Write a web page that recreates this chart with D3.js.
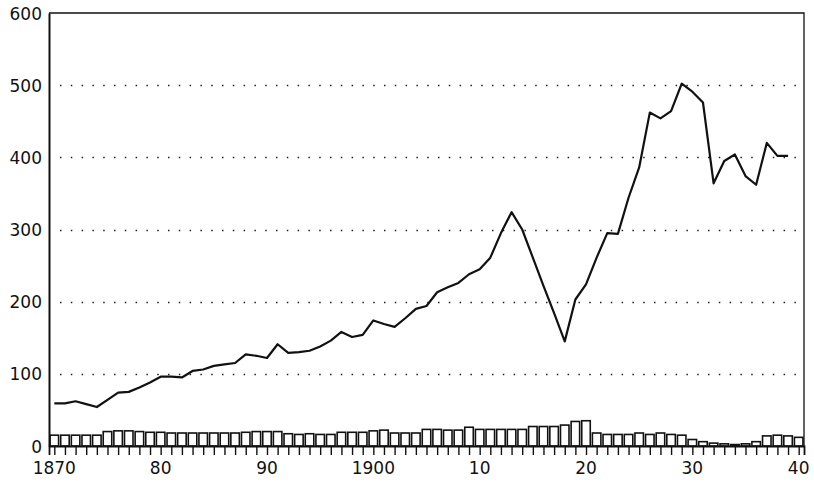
<!DOCTYPE html>
<html>
<head>
<meta charset="utf-8">
<script src="https://cdn.jsdelivr.net/npm/d3@7/dist/d3.min.js"></script>
<style>
  html, body { margin: 0; padding: 0; background: #fff; }
  svg { display: block; }
  .lbl { font-family: "DejaVu Sans", Verdana, sans-serif; font-size: 17px; fill: #111; }
</style>
</head>
<body>
<svg id="chart" width="814" height="490"></svg>
<script>
// Years covered by the yearly bars and the index line
const barYears = d3.range(1870, 1941);
const lineYears = d3.range(1870, 1940);

// Index line, one value per year 1870–1939
const lineValues = [
  59, 59, 62, 58, 54, 64, 74, 75, 81, 88,
  96, 96, 95, 104, 106, 111, 113, 115, 127, 125,
  122, 141, 129, 130, 132, 138, 146, 158, 151, 154,
  174, 169, 165, 177, 190, 194, 213, 220, 226, 238,
  245, 261, 295, 324, 300, 261, 222, 184, 145, 203,
  224, 261, 295, 294, 344, 386, 462, 454, 464, 502,
  491, 476, 364, 395, 404, 374, 362, 420, 402, 402
];

// Small yearly bars, 1870–1940
const barValues = [
  15, 15, 15, 15, 15, 20, 21, 21, 20, 19,
  19, 18, 18, 18, 18, 18, 18, 18, 19, 20,
  20, 20, 17, 16, 17, 16, 16, 19, 19, 19,
  21, 22, 18, 18, 18, 23, 23, 22, 22, 26,
  23, 23, 23, 23, 23, 27, 27, 27, 29, 34,
  35, 18, 16, 16, 16, 18, 16, 18, 16, 15,
  9, 6, 4, 3, 2, 3, 6, 14, 15, 14,
  12
];

// Axis tick values and their printed labels
const yTicks = [0, 100, 200, 300, 400, 500, 600];
const xLabelYears = [1870, 1880, 1890, 1900, 1910, 1920, 1930, 1940];
const xLabelText = ["1870", "80", "90", "1900", "10", "20", "30", "40"];

const svg = d3.select("#chart");
const plotL = 49, plotR = 804, plotT = 13, plotB = 446;

const x = d3.scaleLinear().domain([1869.5, 1940.5]).range([plotL, plotR]);
const y = d3.scaleLinear().domain([0, 600]).range([plotB, plotT]);
const step = x(1871) - x(1870);

// dotted horizontal gridlines
svg.append("g")
  .selectAll("line")
  .data(yTicks.filter(v => v > 0 && v < 600))
  .join("line")
  .attr("x1", plotL + 11).attr("x2", plotR - 2)
  .attr("y1", d => Math.round(y(d)) + 0.5).attr("y2", d => Math.round(y(d)) + 0.5)
  .attr("stroke", "#222")
  .attr("stroke-width", 1.4)
  .attr("stroke-dasharray", "1.5 9.3");

// bars
const bw = step * 0.8;
svg.append("g")
  .selectAll("rect")
  .data(barYears.map((yr, i) => ({ yr, v: barValues[i] })))
  .join("rect")
  .attr("x", d => x(d.yr) - bw / 2)
  .attr("y", d => y(d.v))
  .attr("width", bw)
  .attr("height", d => plotB - y(d.v))
  .attr("fill", "#fff")
  .attr("stroke", "#111")
  .attr("stroke-width", 1.6);

// frame: top and right borders
svg.append("path")
  .attr("d", `M${plotL},${plotT}H${plotR}V${plotB}`)
  .attr("fill", "none")
  .attr("stroke", "#111")
  .attr("stroke-width", 1.3);

// x axis with a tick every year
const xAxis = d3.axisBottom(x)
  .tickValues(barYears)
  .tickSize(9)
  .tickFormat("");
const gx = svg.append("g").attr("transform", `translate(0,${plotB})`).call(xAxis);
gx.select(".domain").attr("stroke", "#111").attr("stroke-width", 1.8);
gx.selectAll(".tick line").attr("stroke", "#111").attr("stroke-width", 1.4);

// y axis line
const yAxis = d3.axisLeft(y).tickValues(yTicks).tickSize(0).tickFormat("");
const gy = svg.append("g").attr("transform", `translate(${plotL},0)`).call(yAxis);
gy.select(".domain").attr("stroke", "#111").attr("stroke-width", 2);

// y labels
svg.append("g")
  .selectAll("text")
  .data(yTicks)
  .join("text")
  .attr("class", "lbl")
  .attr("x", 42)
  .attr("y", d => y(d) + 6.5)
  .attr("text-anchor", "end")
  .text(d => d);

// x labels
svg.append("g")
  .selectAll("text")
  .data(xLabelYears.map((yr, i) => ({ yr, t: xLabelText[i] })))
  .join("text")
  .attr("class", "lbl")
  .attr("x", d => x(d.yr))
  .attr("y", 474)
  .attr("text-anchor", "middle")
  .text(d => d.t);

// index line
const line = d3.line()
  .x((d, i) => x(lineYears[i]))
  .y(d => y(d));
svg.append("path")
  .datum(lineValues)
  .attr("d", line)
  .attr("fill", "none")
  .attr("stroke", "#111")
  .attr("stroke-width", 2.2)
  .attr("stroke-linejoin", "round");
</script>
</body>
</html>
